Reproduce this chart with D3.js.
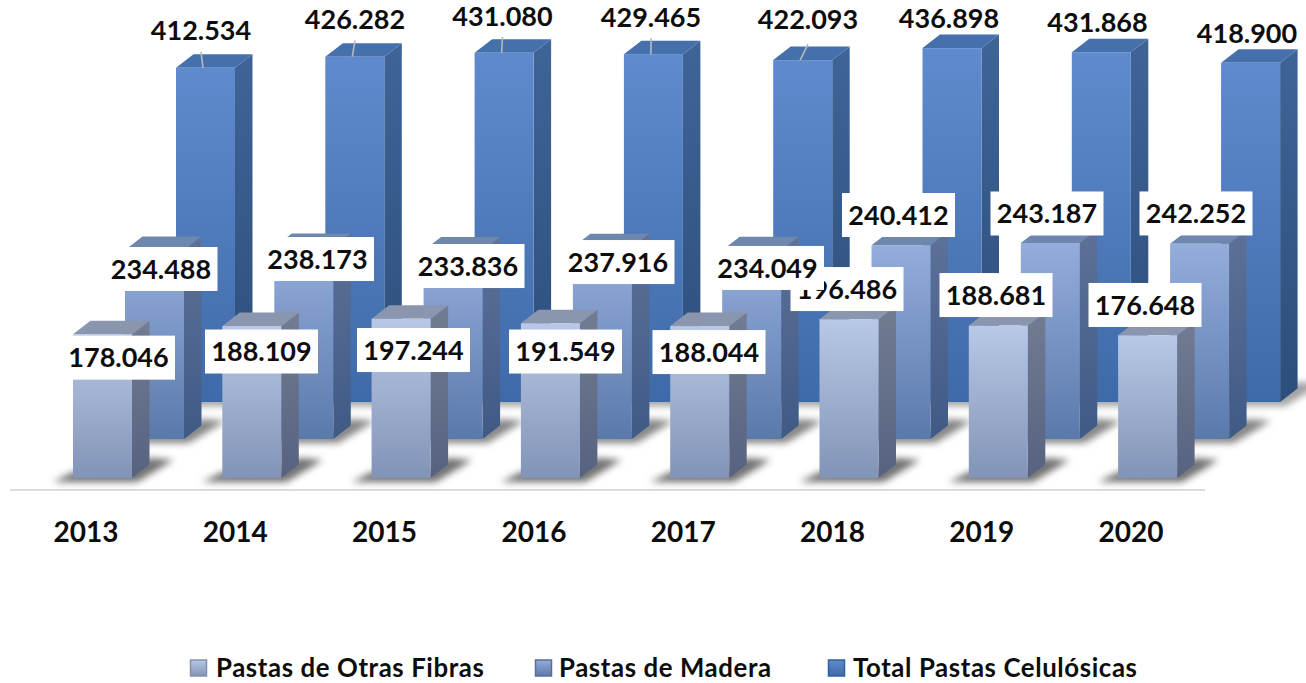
<!DOCTYPE html>
<html><head><meta charset="utf-8">
<script src="https://cdn.jsdelivr.net/npm/d3@7/dist/d3.min.js"></script>
<style>html,body{margin:0;padding:0;background:#fff}svg{display:block}</style>
</head><body><svg id="c" width="1306" height="683"></svg>
<script>
const years=["2013","2014","2015","2016","2017","2018","2019","2020"];
const otrasFibras=[178046,188109,197244,191549,188044,196486,188681,176648];
const madera=[234488,238173,233836,237916,234049,240412,243187,242252];
const total=[412534,426282,431080,429465,422093,436898,431868,418900];
const seriesNames=["Pastas de Otras Fibras","Pastas de Madera","Total Pastas Celulósicas"];
// label centre offsets from each bar's top-centre (px)
const labelOffFront=[[16,23.5],[9.7,25.5],[12.4,31.4],[15.1,28.3],[9.3,26],[-2,-30.2],[-2.3,-30.5],[-2.6,-30.3]];
const labelOffMid=[[6.5,19],[13.7,12],[14.9,15.5],[15.6,14.8],[15.8,17.6],[-2.5,-30.2],[-3.3,-29.5],[-3.6,-30.3]];
const labelOffBack=[[-4.5,-37.8],[0.2,-37.7],[-1.6,-36.8],[-2.4,-36.6],[5.3,-40.6],[-3,-30.1],[-3.8,-29.7],[-3.6,-29.7]];
const leaderCount=5;

const svg=d3.select("#c");
const defs=svg.append("defs");
const FONT="Lato, 'Open Sans', sans-serif";
const step=149.3, bw=59, dx=17.5, dy=13.5;
const x=d3.scaleBand().domain(years).range([73,73+7*step+bw]).paddingInner(1-bw/step).paddingOuter(0);

const series=[
 {name:seriesNames[2],vals:total,off:103,base:402,k:0.81,labels:labelOffBack,id:"b",
  f:["#5f8bce","#3e6aa8"],s:["#3f6497","#2c4e7c"],t:"#4570ab",sh:"#a0a0a0",mk:"#2f5f9f"},
 {name:seriesNames[1],vals:madera,off:52,base:439,k:0.806,labels:labelOffMid,id:"m",
  f:["#94addb","#5a79ab"],s:["#5e7198","#3f5a86"],t:"#6f86ad",sh:"#858585",mk:"#5a6f95"},
 {name:seriesNames[0],vals:otrasFibras,off:0,base:478,k:0.808,labels:labelOffFront,id:"f",
  f:["#b8c8e6","#8294b6"],s:["#727c92","#566280"],t:"#8a96ae",sh:"#707070",mk:"#8690a6"}
];
function grad(id,c){const g=defs.append("linearGradient").attr("id",id).attr("x1",0).attr("y1",0).attr("x2",0).attr("y2",1);
 g.append("stop").attr("offset",0).attr("stop-color",c[0]);g.append("stop").attr("offset",1).attr("stop-color",c[1]);}
series.forEach(s=>{grad(s.id+"F",s.f);grad(s.id+"S",s.s);
 s.y=d3.scaleLinear().domain([0,450000]).range([s.base,s.base-450*s.k]);});
defs.append("filter").attr("id","blur").attr("x","-30%").attr("y","-100%").attr("width","160%").attr("height","300%")
 .append("feGaussianBlur").attr("stdDeviation",3.5);
const pts=a=>a.map(p=>p.join(",")).join(" ");

// baseline
svg.append("line").attr("x1",10).attr("x2",1205).attr("y1",490).attr("y2",490).attr("stroke","#dadde2").attr("stroke-width",2);

series.forEach(s=>{
 const g=svg.append("g");
 const xs=d=>x(d)+s.off;
 g.selectAll("polygon.sh").data(years).join("polygon").attr("class","sh")
  .attr("points",d=>{const l=xs(d),b=s.base;return pts([[l-20,b+4],[l+bw+5,b+4],[l+bw+dx+24,b-18],[l+bw+dx,b-20],[l+bw,b-8],[l,b-6]]);})
  .attr("fill",s.sh).attr("filter","url(#blur)");
 const bar=g.selectAll("g.bar").data(years.map((d,i)=>({yr:d,v:s.vals[i]}))).join("g").attr("class","bar");
 bar.append("polygon").attr("points",d=>{const l=xs(d.yr)+bw,t=s.y(d.v);return pts([[l,t],[l+dx,t-dy],[l+dx,s.base-dy],[l,s.base]]);}).attr("fill",`url(#${s.id}S)`);
 bar.append("polygon").attr("points",d=>{const l=xs(d.yr),t=s.y(d.v);return pts([[l,t],[l+dx,t-dy],[l+bw+dx,t-dy],[l+bw,t]]);}).attr("fill",s.t);
 bar.append("rect").attr("x",d=>xs(d.yr)).attr("y",d=>s.y(d.v)).attr("width",bw).attr("height",d=>s.base-s.y(d.v)).attr("fill",`url(#${s.id}F)`);
});

// leader lines on the back series
const back=series[0];
svg.append("g").selectAll("line").data(years.slice(0,leaderCount)).join("line")
 .attr("x1",d=>x(d)+back.off+bw/2-2.5)
 .attr("x2",(d,i)=>x(d)+back.off+bw/2+labelOffBack[i][0])
 .attr("y1",(d,i)=>back.y(total[i])).attr("y2",(d,i)=>back.y(total[i])-16).attr("stroke","#b4bac2").attr("stroke-width",1.6);

// data labels
const fmt=d3.formatLocale({decimal:",",thousands:".",grouping:[3],currency:["",""]}).format(",d");
[series[2],series[1],series[0]].forEach(s=>{
 const g=svg.append("g");
 s.vals.forEach((v,i)=>{
  const cx=x(years[i])+s.off+bw/2+s.labels[i][0], cy=s.y(v)+s.labels[i][1];
  const l=g.append("g").attr("transform",`translate(${cx},${cy})`);
  if(s.id!=="b") l.append("rect").attr("x",-56.5).attr("y",-22).attr("width",113).attr("height",44).attr("fill","#fff");
  l.append("text").attr("text-anchor","middle").attr("dy","0.36em").attr("font-family",FONT).attr("font-weight",700).attr("font-size",27).attr("fill","#0d0d0d").text(fmt(v));
 });
});

// year axis labels
svg.append("g").selectAll("text").data(years).join("text")
 .attr("x",d=>x(d)+bw/2-16.5).attr("y",532).attr("dy","0.36em").attr("text-anchor","middle")
 .attr("font-family",FONT).attr("font-weight",700).attr("font-size",28).attr("fill","#0d0d0d").text(d=>d);

// legend
const legendX=d3.scaleOrdinal().domain(seriesNames).range([190,535,828]);
const legendTextX=d3.scaleOrdinal().domain(seriesNames).range([26,24,25]);
const lg=svg.append("g").selectAll("g").data(series.slice().reverse()).join("g").attr("transform",d=>`translate(${legendX(d.name)},668)`);
lg.append("rect").attr("x",0.5).attr("y",-8).attr("width",16).attr("height",16).attr("fill",d=>`url(#${d.id}F)`).attr("stroke",d=>d.mk).attr("stroke-width",1.5);
lg.append("text").attr("x",d=>legendTextX(d.name)).attr("y",9).attr("font-family",FONT).attr("font-weight",700).attr("font-size",25.8).attr("letter-spacing",0.6).attr("fill","#0d0d0d").text(d=>d.name);
</script></body></html>
